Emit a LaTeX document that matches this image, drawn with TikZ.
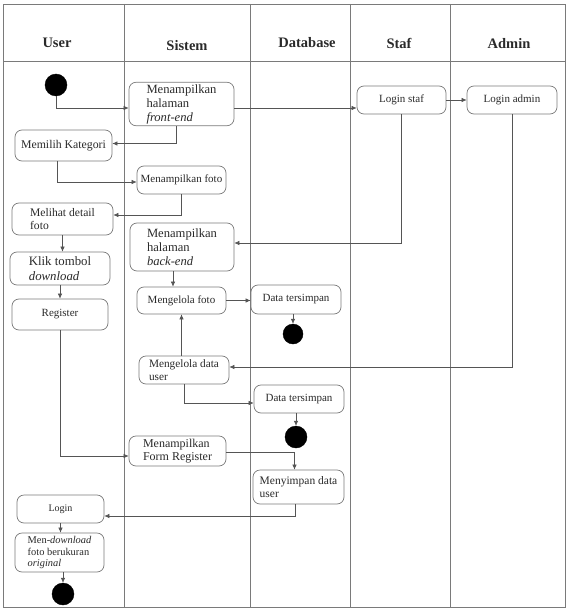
\documentclass[tikz,border=0pt]{standalone}
\usepackage{fontspec}
\setmainfont{Liberation Serif}
\usetikzlibrary{arrows.meta}
\definecolor{garis}{HTML}{555555}
\definecolor{bingkai}{HTML}{7A7A7A}
\definecolor{tulisan}{HTML}{2A2A2A}
\tikzstyle{lane} = [draw=bingkai, line width=.8pt]
\tikzstyle{judul} = [font=\fontsize{14.5}{16}\selectfont\bfseries, text=tulisan]
\tikzstyle{aksi} = [rectangle, rounded corners=7pt, draw=bingkai, line width=.7pt, fill=white,
  align=left, text=tulisan, inner sep=2pt, font=\fontsize{11}{13}\selectfont]
\tikzstyle{titik} = [circle, fill=black, draw=black, inner sep=0pt]
\tikzstyle{flow} = [draw=garis, line width=.6pt, -{Latex[length=5pt,width=4.5pt]}]
\newcommand{\besar}{\fontsize{12.6}{14}\selectfont}
\newcommand{\kecil}{\fontsize{10.4}{11.5}\selectfont}

\begin{document}
\begin{tikzpicture}[x=1pt, y=-1pt]
\useasboundingbox (0,0) rectangle (573,615);
% swimlanes
\draw[lane] (3,4) rectangle (565,607);
\draw[lane] (3,61) -- (565,61);
\foreach \xl in {124,250,350,450}
  \draw[lane] (\xl,4) -- (\xl,607);
\node[judul] (hUser) at (57,43) {User};
\node[judul] (hSistem) at (187,46) {Sistem};
\node[judul] (hDatabase) at (307,43) {Database};
\node[judul] (hStaf) at (399,43) {Staf};
\node[judul] (hAdmin) at (509,44) {Admin};

% user
\node[titik, minimum size=22pt] (start) at (56,85) {};
\node[aksi, minimum width=97pt, minimum height=31pt, font=\fontsize{11.8}{13}\selectfont] (kategori) at (63.5,145.5) {Memilih Kategori};
\node[aksi, minimum width=101pt, minimum height=32pt, font=\fontsize{11.6}{13}\selectfont] (detail) at (62.5,219) {Melihat detail\\ foto};
\node[aksi, minimum width=100pt, minimum height=33pt, font=\fontsize{12.8}{15}\selectfont] (klik) at (60,268.5) {Klik tombol\\ \textit{download}};
\node[aksi, minimum width=96pt, minimum height=31pt] (register) at (60,314.5) {Register};
\node[aksi, minimum width=87pt, minimum height=28pt, font=\fontsize{10}{12}\selectfont] (login) at (60.5,509) {Login};
\node[aksi, minimum width=89pt, minimum height=39pt, font=\kecil] (unduh) at (59.5,552.5) {Men-\textit{download}\\ foto berukuran\\ \textit{original}};
\node[titik, minimum size=22pt] (end3) at (63,594) {};

% sistem
\node[aksi, minimum width=105pt, minimum height=42pt, font=\besar] (fe) at (181.5,104) {Menampilkan\\ halaman\\ \textit{front-end}};
\node[aksi, minimum width=89pt, minimum height=28pt] (mfoto) at (181.5,180) {Menampilkan foto};
\node[aksi, minimum width=104pt, minimum height=48pt, font=\besar] (be) at (182,247) {Menampilkan\\ halaman\\ \textit{back-end}};
\node[aksi, minimum width=89pt, minimum height=27pt] (kfoto) at (181.5,300.5) {Mengelola foto};
\node[aksi, minimum width=90pt, minimum height=28pt, font=\fontsize{11.3}{13}\selectfont] (kuser) at (184,370) {Mengelola data\\ user};
\node[aksi, minimum width=97pt, minimum height=30pt, font=\fontsize{12}{13}\selectfont] (freg) at (177.5,451) {Menampilkan\\ Form Register};

% database
\node[aksi, minimum width=90pt, minimum height=29pt] (dt1) at (296,299.5) {Data tersimpan};
\node[titik, minimum size=20pt] (end1) at (293,334) {};
\node[aksi, minimum width=90pt, minimum height=28pt] (dt2) at (299,399) {Data tersimpan};
\node[titik, minimum size=22pt] (end2) at (296,437) {};
\node[aksi, minimum width=91pt, minimum height=34pt, font=\fontsize{11.5}{12.5}\selectfont] (simpan) at (298.5,487) {Menyimpan data\\ user};

% staf, admin
\node[aksi, minimum width=89pt, minimum height=28pt] (lstaf) at (401.5,100) {Login staf};
\node[aksi, minimum width=90pt, minimum height=28pt] (ladmin) at (512,100) {Login admin};

% alur
\draw[flow] (start) |- ([yshift=-4pt]fe.west);
\draw[flow] ([yshift=-4pt]fe.east) -- ([yshift=-4pt]fe.east -| lstaf.west);
\draw[flow] (lstaf) -- (ladmin);
\draw[flow] ([xshift=-5pt]fe.south) |- ([yshift=2pt]kategori.east);
\draw[flow] ([xshift=-6pt]kategori.south) |- ([yshift=-2pt]mfoto.west);
\draw[flow] (mfoto.south) |- ([yshift=4pt]detail.east);
\draw[flow] (detail.south) -- (detail.south |- klik.north);
\draw[flow] (klik.south) -- (klik.south |- register.north);
\draw[flow] (register.south) |- ([yshift=-5pt]freg.west);
\draw[flow] (lstaf.south) |- ([yshift=4pt]be.east);
\draw[flow] ([xshift=-9pt]be.south) -- ([xshift=-9pt]be.south |- kfoto.north);
\draw[flow] (kfoto) -- (kfoto -| dt1.west);
\draw[flow] (dt1.south -| end1) -- (end1);
\draw[flow] (kuser.north -| kfoto.south) -- (kfoto.south);
\draw[flow] (ladmin.south) |- ([yshift=3pt]kuser.east);
\draw[flow] (kuser.south) |- ([yshift=-4pt]dt2.west);
\draw[flow] (dt2.south -| end2) -- (end2);
\draw[flow] ([yshift=-1pt]freg.east) -| ([xshift=-4pt]simpan.north);
\draw[flow] ([xshift=-3pt]simpan.south) |- ([yshift=-7pt]login.east);
\draw[flow] (login.south) -- (login.south |- unduh.north);
\draw[flow] (unduh.south -| end3) -- (end3);
\end{tikzpicture}
\end{document}
